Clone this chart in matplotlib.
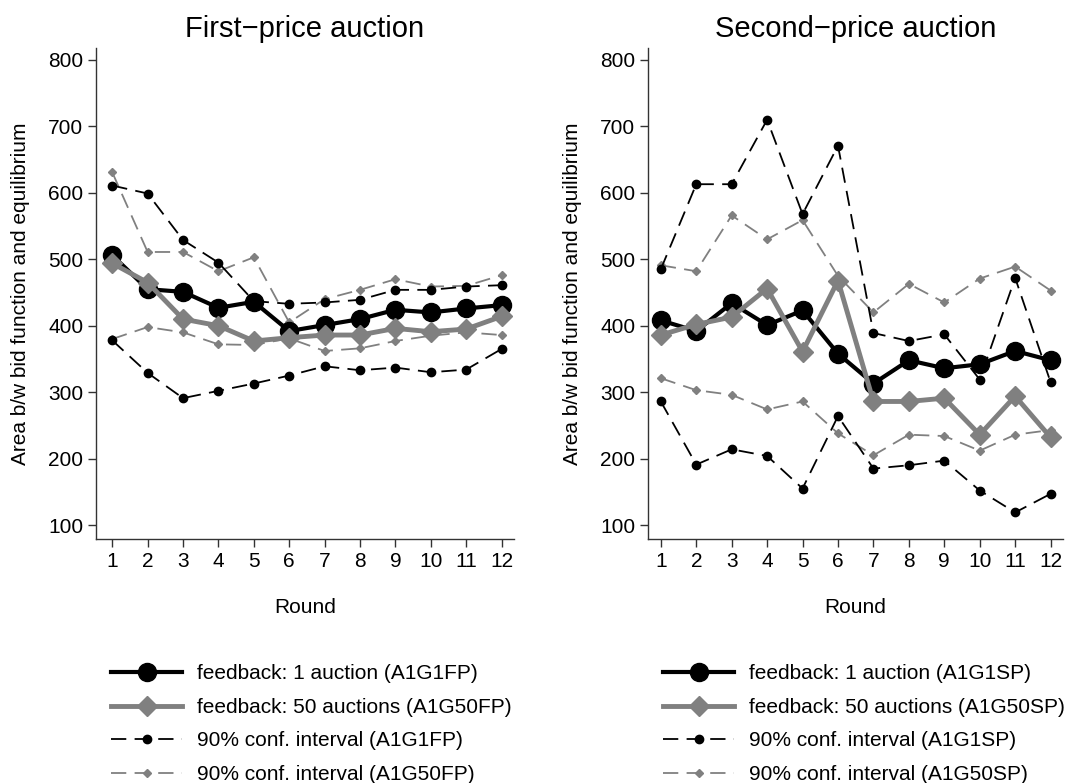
import numpy as np
import matplotlib
matplotlib.use("Agg")
import matplotlib.pyplot as plt

plt.rcParams['font.family'] = ['Liberation Sans', 'DejaVu Sans']
plt.rcParams['lines.scale_dashes'] = False

rounds = np.arange(1, 13)

# first-price auction
fp_g1 = [506, 455, 451, 427, 436, 392, 401, 410, 424, 420, 426, 431]
fp_g50 = [494, 465, 410, 400, 377, 382, 386, 386, 396, 391, 395, 414]
fp_g1_hi = [611, 599, 529, 495, 437, 433, 435, 439, 454, 454, 459, 461]
fp_g1_lo = [378, 329, 291, 302, 313, 325, 339, 333, 337, 330, 334, 365]
fp_g50_hi = [631, 511, 511, 482, 503, 405, 440, 454, 470, 459, 460, 476]
fp_g50_lo = [380, 398, 390, 372, 371, 381, 362, 366, 377, 385, 390, 386]

# second-price auction
sp_g1 = [408, 392, 434, 401, 423, 358, 313, 348, 336, 342, 362, 348]
sp_g50 = [386, 402, 413, 456, 361, 468, 286, 286, 291, 236, 294, 232]
sp_g1_hi = [485, 613, 613, 710, 568, 671, 389, 377, 387, 319, 472, 315]
sp_g1_lo = [286, 191, 214, 204, 155, 264, 185, 190, 197, 152, 119, 147]
sp_g50_hi = [491, 482, 566, 530, 559, 475, 420, 463, 435, 471, 489, 453]
sp_g50_lo = [321, 303, 296, 274, 286, 238, 205, 236, 234, 212, 236, 243]

GRAY = '#808080'
DASH = (11, 6)
FS = 15


def draw_panel(ax, title, g1, g50, g1_hi, g1_lo, g50_hi, g50_lo, tag, xlo):
    ax.plot(rounds, g50_hi, color=GRAY, lw=1.3, dashes=DASH, marker='D', ms=4.5,
            label=f'90% conf. interval (A1G50{tag})', zorder=2)
    ax.plot(rounds, g50_lo, color=GRAY, lw=1.3, dashes=DASH, marker='D', ms=4.5, zorder=2)
    ax.plot(rounds, g1_hi, color='black', lw=1.3, dashes=DASH, marker='o', ms=6,
            label=f'90% conf. interval (A1G1{tag})', zorder=3)
    ax.plot(rounds, g1_lo, color='black', lw=1.3, dashes=DASH, marker='o', ms=6, zorder=3)
    ax.plot(rounds, g1, color='black', lw=3, marker='o', ms=13,
            label=f'feedback: 1 auction (A1G1{tag})', zorder=4)
    ax.plot(rounds, g50, color=GRAY, lw=3.5, marker='D', ms=10,
            label=f'feedback: 50 auctions (A1G50{tag})', zorder=5)

    ax.set_xlim(xlo, 12.35)
    ax.set_ylim(79, 818)
    ax.set_xticks(rounds)
    ax.set_yticks(range(100, 801, 100))
    ax.tick_params(labelsize=FS, length=6, width=1, color='#333333', pad=3)
    for s in ['top', 'right']:
        ax.spines[s].set_visible(False)
    for s in ['left', 'bottom']:
        ax.spines[s].set_color('#333333')
        ax.spines[s].set_linewidth(1)
    ax.set_title(title, fontsize=21, pad=8)
    ax.set_xlabel('Round', fontsize=FS, labelpad=20)
    ax.set_ylabel('Area b/w bid function and equilibrium', fontsize=FS, labelpad=13)

    h, l = ax.get_legend_handles_labels()
    order = [2, 3, 1, 0]
    ax.legend([h[i] for i in order], [l[i] for i in order],
              loc='upper left', bbox_to_anchor=(0.017, -0.238), frameon=False,
              fontsize=FS, handlelength=3.4, handletextpad=0.72,
              labelspacing=0.7, borderaxespad=0)


fig = plt.figure(figsize=(10.77, 7.83), dpi=100)
ax1 = fig.add_axes([0.0891, 0.3116, 0.3881, 0.6271])
ax2 = fig.add_axes([0.6014, 0.3116, 0.3856, 0.6271])

draw_panel(ax1, 'First\u2212price auction', fp_g1, fp_g50, fp_g1_hi, fp_g1_lo,
           fp_g50_hi, fp_g50_lo, 'FP', 0.54)
draw_panel(ax2, 'Second\u2212price auction', sp_g1, sp_g50, sp_g1_hi, sp_g1_lo,
           sp_g50_hi, sp_g50_lo, 'SP', 0.63)

fig.savefig('out.png', dpi=100, facecolor='white')
